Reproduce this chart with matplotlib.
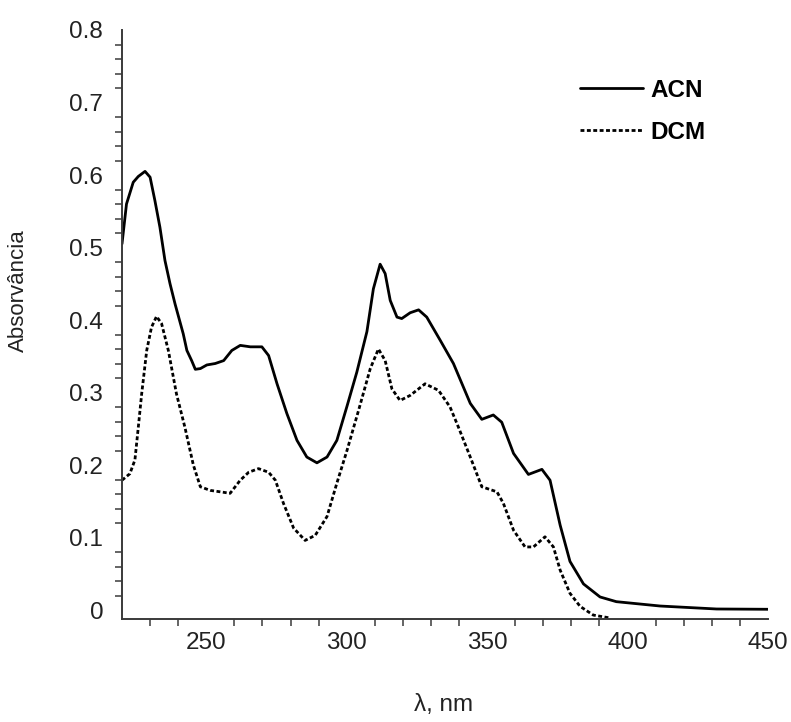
import matplotlib
matplotlib.use("Agg")
import matplotlib.pyplot as plt

plt.rcParams['font.family'] = ['Liberation Sans', 'DejaVu Sans']

# ---- data ----
acn_nm = [220.0, 221.6, 224.0, 225.8, 228.2, 230.0, 231.7, 233.5, 235.3, 237.1,
          238.9, 241.8, 243.1, 244.8, 246.1, 247.9, 250.2, 253.2, 256.2, 259.1,
          262.1, 265.7, 269.8, 272.2, 275.2, 278.7, 282.3, 285.8, 289.4, 293.0,
          296.5, 300.1, 303.6, 307.2, 309.5, 311.9, 313.7, 315.5, 317.9, 319.6,
          322.6, 325.6, 328.5, 333.3, 338.0, 344.0, 348.1, 352.2, 355.2, 359.4,
          364.7, 369.5, 372.4, 376.0, 379.5, 384.3, 390.2, 396.0, 411.6, 431.7,
          450.0]
acn_abs = [0.505, 0.560, 0.590, 0.598, 0.605, 0.597, 0.565, 0.528, 0.482, 0.450,
           0.422, 0.381, 0.358, 0.344, 0.332, 0.333, 0.338, 0.340, 0.344, 0.358,
           0.365, 0.363, 0.363, 0.351, 0.312, 0.271, 0.234, 0.211, 0.203, 0.211,
           0.234, 0.281, 0.328, 0.384, 0.443, 0.477, 0.464, 0.427, 0.404, 0.402,
           0.410, 0.414, 0.404, 0.372, 0.340, 0.285, 0.263, 0.269, 0.259, 0.216,
           0.187, 0.194, 0.179, 0.117, 0.067, 0.036, 0.018, 0.0115, 0.0055, 0.0014,
           0.001]

dcm_nm = [220.0, 222.8, 224.6, 225.8, 227.0, 228.8, 230.5, 232.3, 234.1, 236.5,
          239.4, 242.4, 245.4, 247.9, 251.4, 255.0, 258.5, 262.1, 265.1, 268.6,
          272.2, 274.6, 277.5, 281.1, 285.2, 288.8, 293.0, 296.5, 300.1, 304.2,
          308.4, 311.3, 313.7, 316.1, 319.0, 322.6, 327.9, 332.7, 336.8, 339.8,
          344.0, 348.1, 353.5, 355.8, 359.4, 363.5, 366.5, 370.6, 373.6, 376.0,
          379.5, 383.1, 387.8, 393.8]
dcm_abs = [0.179, 0.188, 0.207, 0.252, 0.298, 0.358, 0.390, 0.405, 0.395, 0.358,
           0.298, 0.252, 0.200, 0.170, 0.165, 0.163, 0.161, 0.179, 0.190, 0.195,
           0.190, 0.179, 0.147, 0.113, 0.096, 0.103, 0.129, 0.175, 0.220, 0.275,
           0.333, 0.360, 0.344, 0.305, 0.289, 0.296, 0.312, 0.303, 0.280, 0.252,
           0.211, 0.170, 0.163, 0.147, 0.110, 0.087, 0.087, 0.101, 0.087, 0.055,
           0.023, 0.005, -0.007, -0.011]

x_major = [250, 300, 350, 400, 450]
y_major = [0, 0.1, 0.2, 0.3, 0.4, 0.5, 0.6, 0.7, 0.8]
y_major_labels = ['0', '0.1', '0.2', '0.3', '0.4', '0.5', '0.6', '0.7', '0.8']

# ---- figure ----
W, H = 791, 722
fig = plt.figure(figsize=(W / 100, H / 100), dpi=100)
ax = fig.add_axes([122 / W, (H - 619) / H, (768 - 122) / W, (619 - 30) / H])

ax.plot(acn_nm, acn_abs, color='black', lw=2.0, solid_joinstyle='round',
        solid_capstyle='round', label='ACN')
ax.plot(dcm_nm, dcm_abs, color='black', lw=2.0, linestyle=(0, (1.4, 0.9)), label='DCM')

ax.set_xlim(220, 450)
ax.set_ylim(-0.0124, 0.8)

axis_col = '#3a3a3a'
for s in ['top', 'right']:
    ax.spines[s].set_visible(False)
for s in ['left', 'bottom']:
    ax.spines[s].set_color(axis_col)
    ax.spines[s].set_linewidth(1.4)

ax.set_xticks(x_major)
ax.set_xticklabels([str(v) for v in x_major])
ax.set_yticks(y_major)
ax.set_yticklabels(y_major_labels)
x_minor = [v for v in range(230, 450, 10) if v % 50 != 0]
y_minor = [round(0.02 * k, 2) for k in range(1, 40) if k % 5 != 0]
ax.set_xticks(x_minor, minor=True)
ax.set_yticks(y_minor, minor=True)

ax.tick_params(axis='both', which='major', length=0, labelsize=17.5, colors='#222222')
ax.tick_params(axis='x', which='major', pad=9.5)
ax.tick_params(axis='y', which='major', pad=13.5)
ax.tick_params(axis='both', which='minor', length=5, width=1.1, color=axis_col, direction='out')

fig.text(18 / W, 1 - 291 / H, 'Absorvância', rotation=90, ha='center', va='center',
         fontsize=16, color='#222222')
fig.text(444 / W, 1 - 705 / H, 'λ, nm', ha='center', va='center',
         fontsize=17.5, color='#222222')

leg = ax.legend(loc='upper left', bbox_to_anchor=(580 / W, 1 - 79 / H),
                bbox_transform=fig.transFigure, frameon=False, borderpad=0,
                borderaxespad=0, handlelength=2.6, handletextpad=0.3,
                labelspacing=0.78, prop={'size': 17.5, 'weight': 'bold'})

fig.savefig('out.png', dpi=100)
